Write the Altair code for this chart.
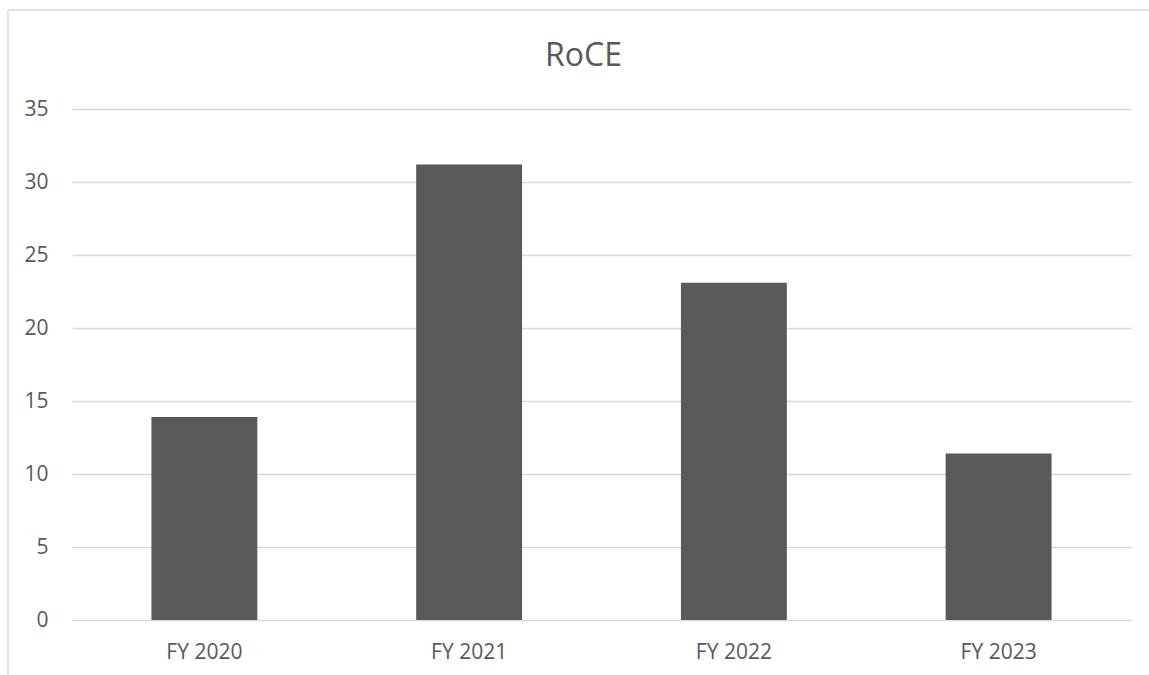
import altair as alt
import pandas as pd

categories = ["FY 2020", "FY 2021", "FY 2022", "FY 2023"]
values = [13.9, 31.2, 23.1, 11.4]
title_text = ["RoCE"]

df = pd.DataFrame({"year": categories, "roce": values})

FONT = "Open Sans"
TXT = "#595959"
GRID = "#d9d9d9"

bars = alt.Chart(df).mark_bar(color="#595959").encode(
    x=alt.X("year:N", sort=categories, title=None,
            scale=alt.Scale(paddingInner=0.6, paddingOuter=0.3),
            axis=alt.Axis(labelAngle=0, domain=False, ticks=False, labelPadding=21,
                          labelFont=FONT, labelFontSize=21, labelColor=TXT, grid=False)),
    y=alt.Y("roce:Q", title=None,
            scale=alt.Scale(domain=[0, 35], nice=False),
            axis=alt.Axis(values=[0, 5, 10, 15, 20, 25, 30, 35], domain=False, ticks=False,
                          labelPadding=24, labelFont=FONT, labelFontSize=21, labelColor=TXT,
                          grid=True, gridColor=GRID, gridWidth=1.3)),
)

title = alt.Chart(alt.Data(values=[{"t": t} for t in title_text])).mark_text(
    font=FONT, fontSize=32, color=TXT, align="center", baseline="alphabetic"
).encode(text="t:N", x=alt.value(511.5), y=alt.value(-43))

border_left = alt.Chart(alt.Data(values=[{"a": 0}])).mark_rule(color=GRID, strokeWidth=1.3).encode(
    x=alt.value(-64), y=alt.value(-99), y2=alt.value(570))
border_top = alt.Chart(alt.Data(values=[{"a": 0}])).mark_rule(color=GRID, strokeWidth=1.3).encode(
    x=alt.value(-64), x2=alt.value(1080), y=alt.value(-99))

chart = alt.layer(bars, title, border_left, border_top).properties(
    width=1059, height=511,
    padding={"left": 72, "top": 109, "right": 18, "bottom": 55},
    autosize=alt.AutoSizeParams(type="none"),
    background="white",
).configure_view(stroke=None)

chart.save("out.html", embed_options={"renderer": "svg", "actions": False})
